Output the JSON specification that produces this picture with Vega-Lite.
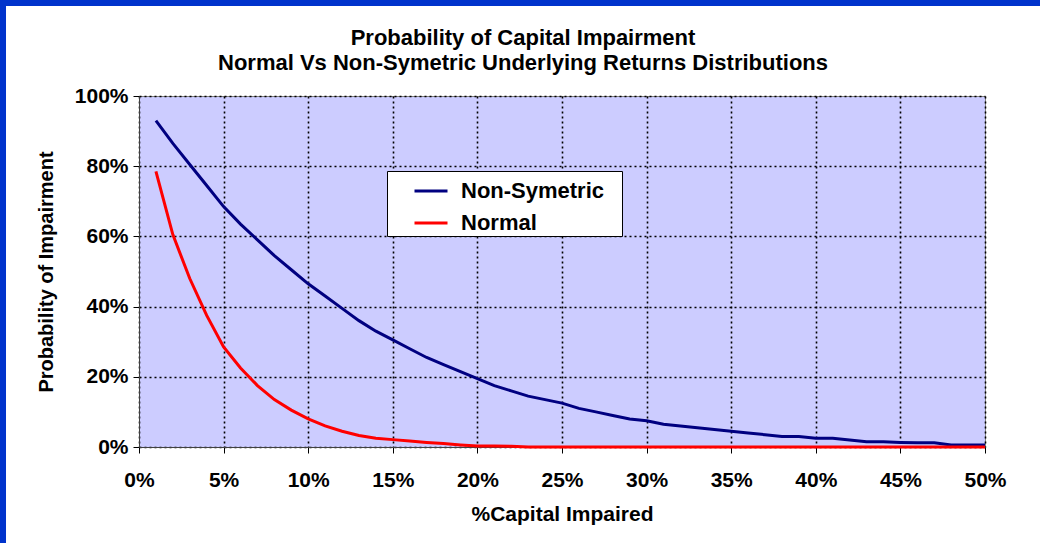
{
  "$schema": "https://vega.github.io/schema/vega-lite/v6.json",
  "width": 846,
  "height": 351,
  "autosize": {"type": "none"},
  "padding": {"left": 139, "top": 96, "right": 55, "bottom": 96},
  "background": "white",
  "title": {
    "text": ["Probability of Capital Impairment", "Normal Vs Non-Symetric Underlying Returns Distributions"],
    "font": "Liberation Sans",
    "fontSize": 22,
    "fontWeight": "bold",
    "color": "black",
    "lineHeight": 25,
    "anchor": "middle",
    "dx": -39,
    "dy": 75,
    "offset": 0
  },
  "config": {
    "font": "Liberation Sans",
    "view": {"fill": "#CCCCFF", "stroke": "#808080", "strokeWidth": 1},
    "axis": {
      "labelFont": "Liberation Sans",
      "labelFontSize": 21,
      "labelFontWeight": "bold",
      "labelColor": "black",
      "labelFlush": false,
      "titleFont": "Liberation Sans",
      "titleFontSize": 20,
      "titleFontWeight": "bold",
      "titleColor": "black",
      "grid": true,
      "gridColor": "black",
      "gridDash": [2, 3],
      "gridWidth": 1.6,
      "gridOpacity": 1,
      "tickColor": "black",
      "tickSize": 6,
      "domainColor": "#404040",
      "domainWidth": 1
    }
  },
  "data": {
    "values": [
      {"x": 0.01, "p": 0.93, "series": "Non-Symetric"},
      {"x": 0.02, "p": 0.865, "series": "Non-Symetric"},
      {"x": 0.03, "p": 0.805, "series": "Non-Symetric"},
      {"x": 0.04, "p": 0.745, "series": "Non-Symetric"},
      {"x": 0.05, "p": 0.685, "series": "Non-Symetric"},
      {"x": 0.06, "p": 0.635, "series": "Non-Symetric"},
      {"x": 0.07, "p": 0.59, "series": "Non-Symetric"},
      {"x": 0.08, "p": 0.545, "series": "Non-Symetric"},
      {"x": 0.09, "p": 0.505, "series": "Non-Symetric"},
      {"x": 0.10, "p": 0.465, "series": "Non-Symetric"},
      {"x": 0.11, "p": 0.43, "series": "Non-Symetric"},
      {"x": 0.12, "p": 0.395, "series": "Non-Symetric"},
      {"x": 0.13, "p": 0.36, "series": "Non-Symetric"},
      {"x": 0.14, "p": 0.33, "series": "Non-Symetric"},
      {"x": 0.15, "p": 0.305, "series": "Non-Symetric"},
      {"x": 0.16, "p": 0.28, "series": "Non-Symetric"},
      {"x": 0.17, "p": 0.255, "series": "Non-Symetric"},
      {"x": 0.18, "p": 0.235, "series": "Non-Symetric"},
      {"x": 0.19, "p": 0.215, "series": "Non-Symetric"},
      {"x": 0.20, "p": 0.195, "series": "Non-Symetric"},
      {"x": 0.21, "p": 0.175, "series": "Non-Symetric"},
      {"x": 0.22, "p": 0.16, "series": "Non-Symetric"},
      {"x": 0.23, "p": 0.145, "series": "Non-Symetric"},
      {"x": 0.24, "p": 0.135, "series": "Non-Symetric"},
      {"x": 0.25, "p": 0.125, "series": "Non-Symetric"},
      {"x": 0.26, "p": 0.11, "series": "Non-Symetric"},
      {"x": 0.27, "p": 0.10, "series": "Non-Symetric"},
      {"x": 0.28, "p": 0.09, "series": "Non-Symetric"},
      {"x": 0.29, "p": 0.08, "series": "Non-Symetric"},
      {"x": 0.30, "p": 0.075, "series": "Non-Symetric"},
      {"x": 0.31, "p": 0.065, "series": "Non-Symetric"},
      {"x": 0.32, "p": 0.06, "series": "Non-Symetric"},
      {"x": 0.33, "p": 0.055, "series": "Non-Symetric"},
      {"x": 0.34, "p": 0.05, "series": "Non-Symetric"},
      {"x": 0.35, "p": 0.045, "series": "Non-Symetric"},
      {"x": 0.36, "p": 0.04, "series": "Non-Symetric"},
      {"x": 0.37, "p": 0.035, "series": "Non-Symetric"},
      {"x": 0.38, "p": 0.03, "series": "Non-Symetric"},
      {"x": 0.39, "p": 0.03, "series": "Non-Symetric"},
      {"x": 0.40, "p": 0.025, "series": "Non-Symetric"},
      {"x": 0.41, "p": 0.025, "series": "Non-Symetric"},
      {"x": 0.42, "p": 0.02, "series": "Non-Symetric"},
      {"x": 0.43, "p": 0.015, "series": "Non-Symetric"},
      {"x": 0.44, "p": 0.015, "series": "Non-Symetric"},
      {"x": 0.45, "p": 0.013, "series": "Non-Symetric"},
      {"x": 0.46, "p": 0.012, "series": "Non-Symetric"},
      {"x": 0.47, "p": 0.012, "series": "Non-Symetric"},
      {"x": 0.48, "p": 0.006, "series": "Non-Symetric"},
      {"x": 0.49, "p": 0.006, "series": "Non-Symetric"},
      {"x": 0.50, "p": 0.006, "series": "Non-Symetric"},
      {"x": 0.01, "p": 0.785, "series": "Normal"},
      {"x": 0.02, "p": 0.605, "series": "Normal"},
      {"x": 0.03, "p": 0.48, "series": "Normal"},
      {"x": 0.04, "p": 0.375, "series": "Normal"},
      {"x": 0.05, "p": 0.285, "series": "Normal"},
      {"x": 0.06, "p": 0.225, "series": "Normal"},
      {"x": 0.07, "p": 0.175, "series": "Normal"},
      {"x": 0.08, "p": 0.135, "series": "Normal"},
      {"x": 0.09, "p": 0.105, "series": "Normal"},
      {"x": 0.10, "p": 0.08, "series": "Normal"},
      {"x": 0.11, "p": 0.06, "series": "Normal"},
      {"x": 0.12, "p": 0.045, "series": "Normal"},
      {"x": 0.13, "p": 0.033, "series": "Normal"},
      {"x": 0.14, "p": 0.025, "series": "Normal"},
      {"x": 0.15, "p": 0.021, "series": "Normal"},
      {"x": 0.16, "p": 0.017, "series": "Normal"},
      {"x": 0.17, "p": 0.013, "series": "Normal"},
      {"x": 0.18, "p": 0.01, "series": "Normal"},
      {"x": 0.19, "p": 0.006, "series": "Normal"},
      {"x": 0.20, "p": 0.003, "series": "Normal"},
      {"x": 0.21, "p": 0.003, "series": "Normal"},
      {"x": 0.22, "p": 0.002, "series": "Normal"},
      {"x": 0.23, "p": 0.0, "series": "Normal"},
      {"x": 0.24, "p": 0.0, "series": "Normal"},
      {"x": 0.25, "p": 0.0, "series": "Normal"},
      {"x": 0.26, "p": 0.0, "series": "Normal"},
      {"x": 0.27, "p": 0.0, "series": "Normal"},
      {"x": 0.28, "p": 0.0, "series": "Normal"},
      {"x": 0.29, "p": 0.0, "series": "Normal"},
      {"x": 0.30, "p": 0.0, "series": "Normal"},
      {"x": 0.31, "p": 0.0, "series": "Normal"},
      {"x": 0.32, "p": 0.0, "series": "Normal"},
      {"x": 0.33, "p": 0.0, "series": "Normal"},
      {"x": 0.34, "p": 0.0, "series": "Normal"},
      {"x": 0.35, "p": 0.0, "series": "Normal"},
      {"x": 0.36, "p": 0.0, "series": "Normal"},
      {"x": 0.37, "p": 0.0, "series": "Normal"},
      {"x": 0.38, "p": 0.0, "series": "Normal"},
      {"x": 0.39, "p": 0.0, "series": "Normal"},
      {"x": 0.40, "p": 0.0, "series": "Normal"},
      {"x": 0.41, "p": 0.0, "series": "Normal"},
      {"x": 0.42, "p": 0.0, "series": "Normal"},
      {"x": 0.43, "p": 0.0, "series": "Normal"},
      {"x": 0.44, "p": 0.0, "series": "Normal"},
      {"x": 0.45, "p": 0.0, "series": "Normal"},
      {"x": 0.46, "p": 0.0, "series": "Normal"},
      {"x": 0.47, "p": 0.0, "series": "Normal"},
      {"x": 0.48, "p": 0.0, "series": "Normal"},
      {"x": 0.49, "p": 0.0, "series": "Normal"},
      {"x": 0.50, "p": 0.0, "series": "Normal"}
    ]
  },
  "layer": [
    {
      "mark": {"type": "line", "strokeWidth": 3, "interpolate": "linear"},
      "encoding": {
        "x": {
          "field": "x",
          "type": "quantitative",
          "scale": {"domain": [0, 0.5], "nice": false},
          "axis": {
            "title": "%Capital Impaired",
            "titleFontSize": 21,
            "format": ".0%",
            "values": [0, 0.05, 0.1, 0.15, 0.2, 0.25, 0.3, 0.35, 0.4, 0.45, 0.5],
            "labelPadding": 16,
            "titlePadding": 13
          }
        },
        "y": {
          "field": "p",
          "type": "quantitative",
          "scale": {"domain": [0, 1], "nice": false},
          "axis": {
            "title": "Probability of Impairment",
            "format": ".0%",
            "values": [0, 0.2, 0.4, 0.6, 0.8, 1],
            "labelPadding": 5,
            "titlePadding": 18
          }
        },
        "color": {
          "field": "series",
          "type": "nominal",
          "sort": ["Non-Symetric", "Normal"],
          "scale": {"domain": ["Non-Symetric", "Normal"], "range": ["#000080", "#FF0000"]},
          "legend": {
            "title": ".",
            "titleOrient": "right",
            "titleOpacity": 0,
            "titleFontSize": 6,
            "titlePadding": 14,
            "orient": "none",
            "legendX": 248,
            "legendY": 75,
            "fillColor": "white",
            "strokeColor": "black",
            "padding": 2,
            "symbolOffset": 24,
            "symbolType": "stroke",
            "symbolSize": 1089,
            "symbolStrokeWidth": 3,
            "labelFont": "Liberation Sans",
            "labelFontSize": 22,
            "labelFontWeight": "bold",
            "labelColor": "black",
            "labelOffset": 12,
            "rowPadding": 3
          }
        }
      }
    },
    {
      "data": {"values": [{}]},
      "mark": {"type": "rect", "color": "#0033CC"},
      "encoding": {
        "x": {"datum": -0.0822, "type": "quantitative", "scale": {"domain": [0, 0.5], "nice": false}},
        "x2": {"datum": -0.0786},
        "y": {"datum": -0.28, "type": "quantitative", "scale": {"domain": [0, 1], "nice": false}},
        "y2": {"datum": 1.2735}
      }
    },
    {
      "data": {"values": [{}]},
      "mark": {"type": "rect", "color": "#0033CC"},
      "encoding": {
        "x": {"datum": -0.0822, "type": "quantitative", "scale": {"domain": [0, 0.5], "nice": false}},
        "x2": {"datum": 0.533},
        "y": {"datum": 1.2564, "type": "quantitative", "scale": {"domain": [0, 1], "nice": false}},
        "y2": {"datum": 1.2735}
      }
    }
  ]
}
